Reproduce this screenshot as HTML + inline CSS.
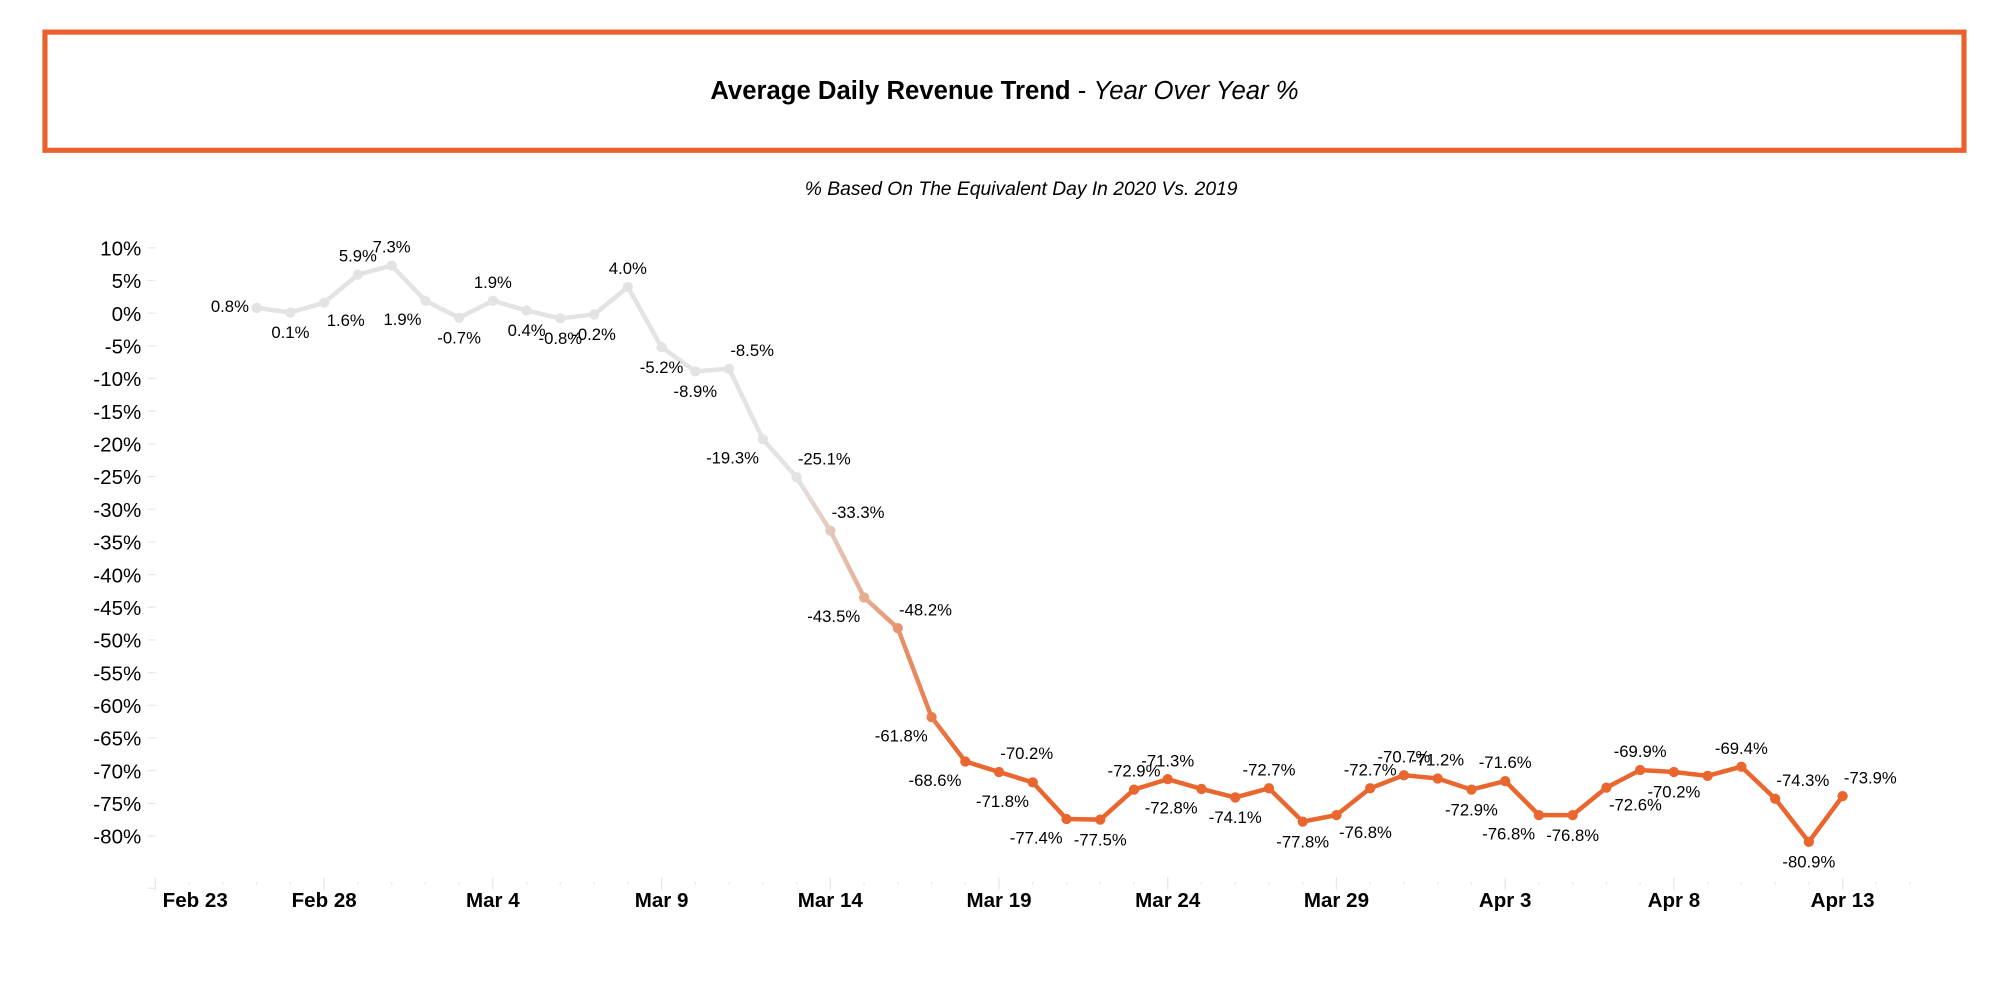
<!DOCTYPE html>
<html><head><meta charset="utf-8"><style>
html,body{margin:0;padding:0;background:#fff;width:2014px;height:986px;overflow:hidden}
#wrap{position:absolute;left:0;top:0;width:1568px;height:768px;transform:scale(1.2845);transform-origin:0 0;font-family:"Liberation Sans",Arial,sans-serif}
#titlebox{position:absolute;left:33px;top:23px;width:1490px;height:88px;border:4px solid #ea612d;display:flex;align-items:center;justify-content:center;font-size:20px;color:#000}
#sub{position:absolute;left:0;width:1590px;top:139px;text-align:center;font-size:15px;font-style:italic}
svg{position:absolute;left:0;top:0}
</style></head><body>
<div id="wrap">
<div id="titlebox"><span><b>Average Daily Revenue Trend</b> - <i>Year Over Year %</i></span></div>
<div id="sub">% Based On The Equivalent Day In 2020 Vs. 2019</div>
<svg id="chart" width="1568" height="768"></svg>
</div>
<script>
const values=[0.8,0.1,1.6,5.9,7.3,1.9,-0.7,1.9,0.4,-0.8,-0.2,4.0,-5.2,-8.9,-8.5,-19.3,-25.1,-33.3,-43.5,-48.2,-61.8,-68.6,-70.2,-71.8,-77.4,-77.5,-72.9,-71.3,-72.8,-74.1,-72.7,-77.8,-76.8,-72.7,-70.7,-71.2,-72.9,-71.6,-76.8,-76.8,-72.6,-69.9,-70.2,-70.8,-69.4,-74.3,-80.9,-73.9];
const labelPos=['l','b','br','a','a','bl','b','a','b','b','b','a','b','b','ar','bl','ar','ar','bl','ar','bl','bl','ar','bl','bl','b','a','a','bl','b','a','b','br','a','a','a','b','a','bl','b','br','a','b','n','a','ar','b','ar'];
const firstDay=3;
const xTickLabels=['Feb 23','Feb 28','Mar 4','Mar 9','Mar 14','Mar 19','Mar 24','Mar 29','Apr 3','Apr 8','Apr 13'];
const xTickDays=[0,5,10,15,20,25,30,35,40,45,50];
const yTicks=[10,5,0,-5,-10,-15,-20,-25,-30,-35,-40,-45,-50,-55,-60,-65,-70,-75,-80];
const NS='http://www.w3.org/2000/svg';
const svg=document.getElementById('chart');
const x=d=>121+d*26.27;
const y=v=>243.8-v*5.088;
function el(t,a,p){const e=document.createElementNS(NS,t);for(const k in a)e.setAttribute(k,a[k]);(p||svg).appendChild(e);return e;}
const defs=el('defs',{});
const g=el('linearGradient',{id:'grad',gradientUnits:'userSpaceOnUse',x1:x(19),y1:0,x2:x(24),y2:0},defs);
el('stop',{offset:'0','stop-color':'#e3e3e3'},g);
el('stop',{offset:'0.5','stop-color':'#e6a07f'},g);
el('stop',{offset:'1','stop-color':'#ea662f'},g);
yTicks.forEach(v=>{
 const t=el('text',{x:110,y:y(v)+6,'text-anchor':'end','font-size':16,fill:'#000'});
 t.textContent=v+'%';
 
 
 const l=el('line',{x1:115,x2:121,y1:y(v),y2:y(v),stroke:'#e8e8e8','stroke-width':1});
 
 
});
el('line',{x1:115,x2:121,y1:y(-88),y2:y(-88),stroke:'#e8e8e8','stroke-width':1});
const ay=688;
for(let d=0;d<=52;d++){
 const r=el('rect',{x:x(d)-0.6,y:ay-1,width:1.2,height:1.5,fill:'#e4e4e4'});
 
 
}
xTickDays.forEach((d,i)=>{
 const l=el('line',{x1:x(d),x2:x(d),y1:ay-5,y2:ay+5,stroke:'#e8e8e8','stroke-width':1});
 
 
 const cx=i===0?152:x(d);
 const t=el('text',{x:cx,y:706,'text-anchor':'middle','font-size':16,'font-weight':'bold',fill:'#000'});
 t.textContent=xTickLabels[i];
 
 
});
const pts=values.map((v,i)=>x(firstDay+i).toFixed(1)+','+y(v).toFixed(1)).join(' ');
const pl=el('polyline',{points:pts,fill:'none',stroke:'url(#grad)','stroke-width':3.5,'stroke-linejoin':'round'});


values.forEach((v,i)=>{
 const px=x(firstDay+i),py=y(v);
 const c=el('circle',{cx:px,cy:py,r:4,fill:'url(#grad)'});
 
 
 const p=labelPos[i];
 if(p==='n')return;
 let lx=px,ly=py,anc='middle';
 if(p==='a'){ly=py-10;}
 else if(p==='b'){ly=py+20;}
 else if(p==='l'){lx=px-6;ly=py+3;anc='end';}
 else if(p==='ar'){lx=px+1;ly=py-10;anc='start';}
 else if(p==='bl'){lx=px-3;ly=py+19;anc='end';}
 else if(p==='br'){lx=px+2;ly=py+18;anc='start';}
 const t=el('text',{x:lx,y:ly,'text-anchor':anc,'font-size':13,fill:'#000'});
 t.textContent=v.toFixed(1)+'%';
 
 
});
</script>
</body></html>
